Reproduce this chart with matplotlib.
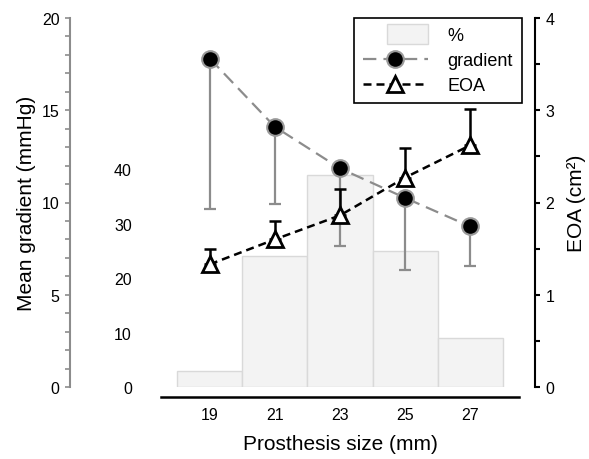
import numpy as np
import matplotlib
matplotlib.use('Agg')
from matplotlib import pyplot as plt
import matplotlib.patches as mpatches
from matplotlib.legend_handler import HandlerPatch
from matplotlib.ticker import MultipleLocator

plt.rcParams['font.family'] = ['Liberation Sans', 'DejaVu Sans']

# prosthesis sizes (mm)
sizes = np.array([19, 21, 23, 25, 27])
# share of patients per size (%)
pct = np.array([3, 24, 39, 25, 9])
# mean gradient (mmHg) and lower end of its error bar
grad = np.array([17.8, 14.1, 11.85, 10.25, 8.7])
grad_low = np.array([9.65, 9.9, 7.65, 6.35, 6.55])
# EOA (cm2) and upper end of its error bar
eoa = np.array([1.33, 1.60, 1.86, 2.27, 2.62])
eoa_high = np.array([1.50, 1.80, 2.15, 2.59, 3.01])

gray = '#8c8c8c'
tick_fs = 11.5

fig = plt.figure(figsize=(5.89, 4.6), dpi=100)
ax_pct = fig.add_axes([161 / 589, 72 / 460, 358 / 589, 369 / 460])

# bars (%) on the inner axis
bars = ax_pct.bar(sizes, pct, width=2.0, color='#f3f3f3', edgecolor='#d9d9d9',
                  linewidth=1, zorder=1)
ax_pct.set_xlim(17.5, 28.5)
ax_pct.set_ylim(0, 67.8)
ax_pct.set_yticks([0, 10, 20, 30, 40])
ax_pct.set_xticks(sizes)
ax_pct.tick_params(axis='y', length=0, pad=21, labelsize=tick_fs)
ax_pct.tick_params(axis='x', length=0, pad=7, labelsize=tick_fs)
for s in ['left', 'right', 'top']:
    ax_pct.spines[s].set_visible(False)
ax_pct.spines['bottom'].set_position(('outward', 7.2))
ax_pct.spines['bottom'].set_linewidth(1.8)
ax_pct.set_xlabel('Prosthesis size (mm)', fontsize=15, labelpad=9)

# gradient axis on the left
ax_g = ax_pct.twinx()
ax_g.yaxis.tick_left()
ax_g.yaxis.set_label_position('left')
for s in ['right', 'top', 'bottom']:
    ax_g.spines[s].set_visible(False)
ax_g.spines['left'].set_position(('outward', 65.5))
ax_g.spines['left'].set_color(gray)
ax_g.spines['left'].set_linewidth(1.5)
ax_g.set_ylim(0, 20)
ax_g.yaxis.set_major_locator(MultipleLocator(5))
ax_g.yaxis.set_minor_locator(MultipleLocator(1))
ax_g.tick_params(axis='y', which='both', color=gray, width=1.2, length=3.6,
                 pad=4, labelsize=tick_fs)
ax_g.set_ylabel('Mean gradient (mmHg)', fontsize=15, labelpad=4)

ax_g.errorbar(sizes, grad, yerr=[grad - grad_low, np.zeros(5)], fmt='none',
              ecolor=gray, elinewidth=1.6, capsize=4.3, capthick=1.6, zorder=2)
line_g, = ax_g.plot(sizes, grad, color=gray, lw=1.6, dashes=(6, 3.2), marker='o',
                    ms=12, mfc='black', mec='#999999', mew=1.5, zorder=3)

# EOA axis on the right
ax_e = ax_pct.twinx()
for s in ['left', 'top', 'bottom']:
    ax_e.spines[s].set_visible(False)
ax_e.spines['right'].set_position(('outward', 11.5))
ax_e.spines['right'].set_linewidth(1.5)
ax_e.set_ylim(0, 4)
ax_e.yaxis.set_major_locator(MultipleLocator(1))
ax_e.yaxis.set_minor_locator(MultipleLocator(0.5))
ax_e.tick_params(axis='y', which='both', width=1.5, length=3.6, pad=4,
                 labelsize=tick_fs)
ax_e.set_ylabel('EOA (cm²)', fontsize=15, labelpad=9)

ax_e.errorbar(sizes, eoa, yerr=[np.zeros(5), eoa_high - eoa], fmt='none',
              ecolor='black', elinewidth=1.8, capsize=4.3, capthick=1.8, zorder=2)
line_e, = ax_e.plot(sizes, eoa, color='black', lw=1.8, dashes=(3.2, 2), marker='^',
                    ms=12, mfc='white', mec='black', mew=2, zorder=3)


def small_box(legend, orig_handle, xdescent, ydescent, width, height, fontsize):
    return mpatches.Rectangle((-xdescent + 0.38 * width, -ydescent - 0.3 * height),
                              0.62 * width, 1.6 * height)


leg = ax_e.legend([bars.patches[0], line_g, line_e], ['%', 'gradient', 'EOA'],
                  loc='upper right', bbox_to_anchor=(1.008, 1.0),
                  borderaxespad=0, fontsize=13, handlelength=3.6,
                  handletextpad=1.1, labelspacing=0.45, borderpad=0.5,
                  fancybox=False, framealpha=1, edgecolor='black',
                  handler_map={mpatches.Rectangle: HandlerPatch(patch_func=small_box)})
leg.get_frame().set_linewidth(1.2)

fig.savefig('out.png', dpi=100, facecolor='white')
